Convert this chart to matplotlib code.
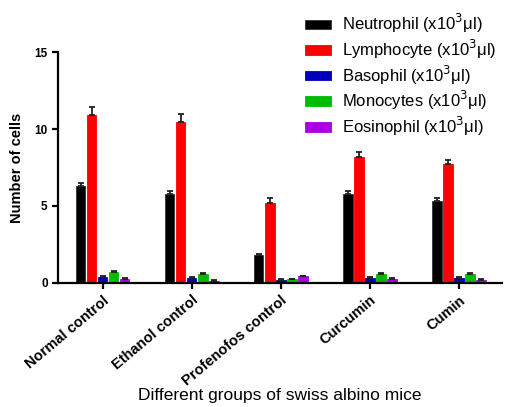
import matplotlib.pyplot as plt
import numpy as np

plt.rcParams['font.family'] = ['Liberation Sans', 'DejaVu Sans']

groups = ['Normal control', 'Ethanol control', 'Profenofos control', 'Curcumin', 'Cumin']
series = ['Neutrophil', 'Lymphocyte', 'Basophil', 'Monocytes', 'Eosinophil']
neutrophil = [6.3, 5.8, 1.8, 5.75, 5.3]
lymphocyte = [10.9, 10.45, 5.2, 8.2, 7.75]
basophil = [0.37, 0.33, 0.2, 0.33, 0.33]
monocytes = [0.72, 0.6, 0.22, 0.6, 0.56]
eosinophil = [0.24, 0.13, 0.42, 0.27, 0.2]
neutrophil_err = [0.2, 0.2, 0.1, 0.25, 0.2]
lymphocyte_err = [0.55, 0.5, 0.3, 0.3, 0.25]
basophil_err = [0.08, 0.06, 0.06, 0.06, 0.06]
monocytes_err = [0.05, 0.05, 0.05, 0.05, 0.05]
eosinophil_err = [0.05, 0.05, 0.05, 0.05, 0.05]

values = [neutrophil, lymphocyte, basophil, monocytes, eosinophil]
errors = [neutrophil_err, lymphocyte_err, basophil_err, monocytes_err, eosinophil_err]
colors = ['#000000', '#ff0000', '#0000bb', '#00bb00', '#a800e0']

fig = plt.figure(figsize=(5.1, 4.07), dpi=100)
ax = fig.add_axes([0.114, 0.305, 0.87, 0.567])

x = np.arange(len(groups))
step = 0.124
width = 0.105
for i, (name, vals, err, c) in enumerate(zip(series, values, errors, colors)):
    pos = x + (i - 2) * step
    ax.bar(pos, vals, width=width, color=c, edgecolor='#333333' if i == 0 else c, linewidth=0.6,
           label=name + r' (x10$^3$μl)', zorder=2)
    ax.errorbar(pos, vals, yerr=[np.zeros(len(vals)), err], fmt='none', ecolor='#222222',
                elinewidth=1.3, capsize=2.2, capthick=1.3, zorder=3)

ax.set_xlim(-0.5, 4.48)
ax.set_ylim(0, 15)
ax.set_yticks([0, 5, 10, 15])
ax.set_xticks(x)
ax.set_xticklabels(groups, rotation=40, ha='right', rotation_mode='anchor', fontsize=10.5, fontweight='bold')
for lbl in ax.get_yticklabels():
    lbl.set_fontweight('bold')
    lbl.set_fontsize(8.5)
ax.spines['top'].set_visible(False)
ax.spines['right'].set_visible(False)
ax.spines['left'].set_linewidth(1.6)
ax.spines['bottom'].set_linewidth(1.6)
ax.tick_params(axis='both', width=1.6, length=4, direction='out')
ax.set_ylabel('Number of cells', fontsize=10.5, fontweight='bold')
ax.yaxis.set_label_coords(-0.076, 0.5)
ax.set_xlabel('Different groups of swiss albino mice', fontsize=12.5, labelpad=0)

fig.legend(loc='upper left', bbox_to_anchor=(0.598, 0.97), frameon=False, fontsize=12,
           handlelength=1.55, handleheight=0.5, labelspacing=0.15, handletextpad=0.7,
           borderaxespad=0, borderpad=0)

fig.savefig('out.png', dpi=100)
